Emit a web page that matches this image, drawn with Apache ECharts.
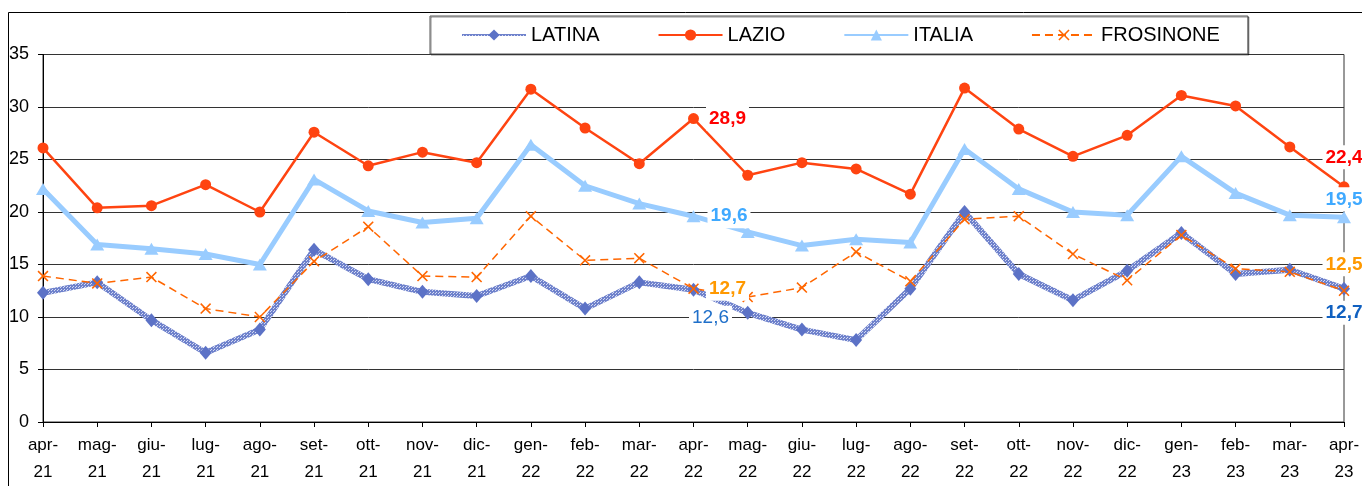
<!DOCTYPE html>
<html>
<head>
<meta charset="utf-8">
<script src="https://cdn.jsdelivr.net/npm/echarts@6.0.0/dist/echarts.min.js"></script>
<style>
  html, body { margin: 0; padding: 0; background: #fff; }
  #chart { width: 1362px; height: 486px; }
</style>
</head>
<body>
<div id="chart"></div>
<script>
// months apr-21 .. apr-23
var categories = ['apr-21','mag-21','giu-21','lug-21','ago-21','set-21','ott-21','nov-21','dic-21',
  'gen-22','feb-22','mar-22','apr-22','mag-22','giu-22','lug-22','ago-22','set-22','ott-22','nov-22',
  'dic-22','gen-23','feb-23','mar-23','apr-23'];

var latina    = [12.3,13.3,9.7,6.6,8.8,16.4,13.6,12.4,12.0,13.9,10.8,13.3,12.6,10.4,8.8,7.8,12.7,20.0,14.1,11.6,14.4,18.0,14.1,14.5,12.7];
var lazio     = [26.1,20.4,20.6,22.6,20.0,27.6,24.4,25.7,24.7,31.7,28.0,24.6,28.9,23.5,24.7,24.1,21.7,31.8,27.9,25.3,27.3,31.1,30.1,26.2,22.4];
var italia    = [22.2,16.9,16.5,16.0,15.0,23.1,20.1,19.0,19.4,26.4,22.5,20.8,19.6,18.1,16.8,17.4,17.1,26.0,22.2,20.0,19.7,25.3,21.8,19.7,19.5];
var frosinone = [13.9,13.2,13.8,10.8,10.0,15.3,18.6,13.9,13.8,19.6,15.4,15.6,12.7,11.9,12.8,16.2,13.4,19.3,19.6,16.0,13.5,17.8,14.6,14.3,12.5];

var yTicks = [0, 5, 10, 15, 20, 25, 30, 35];

var FONT = "'Liberation Sans', Arial, sans-serif";

function fmt(v) { return v.toFixed(1).replace('.', ','); }

// put a label only on the points listed in `labels` (index -> label style)
function withLabels(values, labels) {
  return values.map(function (v, i) {
    if (!labels[i]) return v;
    return { value: v, label: Object.assign({
      show: true,
      formatter: function (p) { return fmt(p.value); },
      fontFamily: FONT,
      fontSize: 19,
      fontWeight: 'bold',
      backgroundColor: '#fff',
      padding: [3, 3, 2, 3]
    }, labels[i]) };
  });
}

// hatched look of the LATINA line
var hatch = document.createElement('canvas');
hatch.width = 3; hatch.height = 3;
(function () {
  var c = hatch.getContext('2d');
  c.fillStyle = '#6f82cc';
  c.fillRect(0, 0, 3, 3);
  c.fillStyle = '#d4daf3';
  c.fillRect(1, 1, 1, 1);
  c.fillRect(0, 2, 1, 1);
})();

var xMark = 'path://M0,1 L1,0 L5,4 L9,0 L10,1 L6,5 L10,9 L9,10 L5,6 L1,10 L0,9 L4,5 Z';

var chart = echarts.init(document.getElementById('chart'));
chart.setOption({
  backgroundColor: '#fff',
  animation: false,
  grid: {
    left: 43, right: 18, top: 54.5, bottom: 64,
    show: true, borderColor: '#333', borderWidth: 1,
    outerBoundsMode: 'none'
  },
  graphic: [{
    type: 'polyline',
    shape: { points: [[8.5, 486], [8.5, 12.5], [1362, 12.5]] },
    style: { stroke: '#000', lineWidth: 1, fill: null },
    silent: true
  }],
  legend: {
    left: 430, top: 16,
    padding: [9, 28, 9, 31],
    itemWidth: 64, itemHeight: 14, itemGap: 58,
    borderColor: '#555', borderWidth: 1, backgroundColor: '#fff',
    shadowColor: 'rgba(0,0,0,0.45)', shadowOffsetX: 1, shadowOffsetY: 1,
    textStyle: { fontFamily: FONT, fontSize: 20, color: '#000' },
    data: ['LATINA', 'LAZIO', 'ITALIA', 'FROSINONE']
  },
  xAxis: {
    type: 'category',
    boundaryGap: false,
    data: categories,
    axisLine: { lineStyle: { color: '#000', width: 1 } },
    axisTick: { show: true, inside: false, length: 5, lineStyle: { color: '#000' } },
    axisLabel: {
      interval: 0,
      margin: 10,
      fontFamily: FONT, fontSize: 17, lineHeight: 27, color: '#000',
      formatter: function (v) { return v.replace('-', '-\n'); }
    }
  },
  yAxis: {
    type: 'value',
    min: yTicks[0], max: yTicks[yTicks.length - 1], interval: 5,
    axisLine: { show: true, lineStyle: { color: '#000', width: 1 } },
    axisTick: { show: true, length: 5, lineStyle: { color: '#000' } },
    axisLabel: { margin: 14, fontFamily: FONT, fontSize: 18, color: '#000' },
    splitLine: { lineStyle: { color: '#333', width: 1 } }
  },
  series: [
    {
      name: 'LATINA', type: 'line',
      data: withLabels(latina, {
        12: { position: 'bottom', distance: 9, offset: [17, 0], color: '#1f6fc9', fontWeight: 'normal' },
        24: { position: 'bottom', distance: 5, color: '#1060c0' }
      }),
      symbol: 'diamond', symbolSize: [12, 14],
      itemStyle: { color: '#5c72c6' },
      lineStyle: { width: 6, color: { image: hatch, repeat: 'repeat' } }
    },
    {
      name: 'LAZIO', type: 'line',
      data: withLabels(lazio, {
        12: { position: 'right', distance: 7, color: '#ff0000' },
        24: { position: 'top', distance: 12, color: '#ff0000' }
      }),
      symbol: 'circle', symbolSize: 11,
      itemStyle: { color: '#ff4411' },
      lineStyle: { width: 2.5, color: '#ff4411' }
    },
    {
      name: 'ITALIA', type: 'line',
      data: withLabels(italia, {
        12: { position: 'right', distance: 7, color: '#3fa9ff' },
        24: { position: 'top', distance: 0, color: '#3fa9ff' }
      }),
      symbol: 'triangle', symbolSize: [14, 12],
      itemStyle: { color: '#99ccff' },
      lineStyle: { width: 5, color: '#99ccff' }
    },
    {
      name: 'FROSINONE', type: 'line',
      data: withLabels(frosinone, {
        12: { position: 'right', distance: 7, color: '#ff9900' },
        24: { position: 'top', distance: 9, color: '#ff9900' }
      }),
      symbol: xMark, symbolSize: 11,
      itemStyle: { color: '#ff6600' },
      lineStyle: { width: 1.5, color: '#ff6600', type: [8, 5] }
    }
  ]
});
</script>
</body>
</html>
